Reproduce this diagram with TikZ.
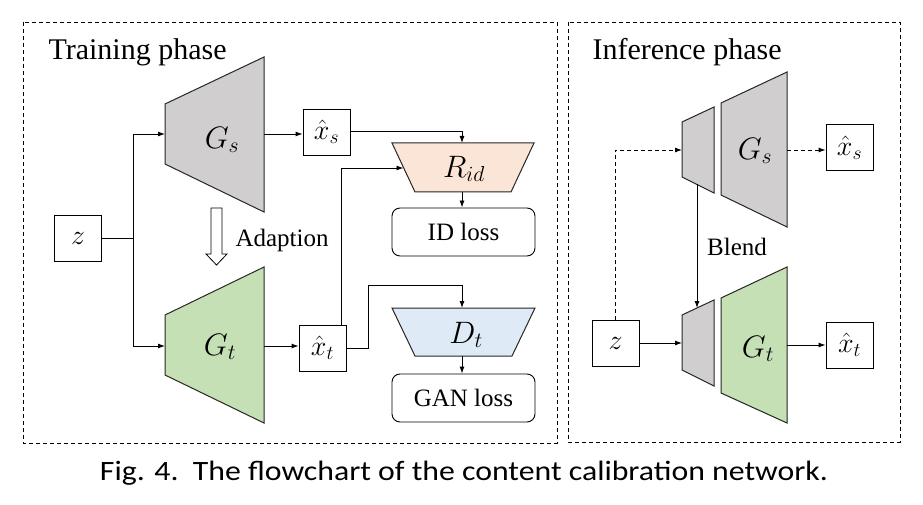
\RequirePackage{fix-cm}
\documentclass[tikz,border=0pt]{standalone}
\usepackage{fontspec}
\setmainfont{Liberation Serif}
\newfontfamily\capfont{Carlito}
\usetikzlibrary{arrows.meta, positioning}

\definecolor{netgray}{HTML}{D0CECE}
\definecolor{netgreen}{HTML}{C5E0B4}
\definecolor{netpeach}{HTML}{FBE5D6}
\definecolor{netblue}{HTML}{DEEBF7}

\begin{document}
\begin{tikzpicture}[x=1pt, y=-1pt, >={Latex[length=7pt, width=5pt]},
                    phase/.style = {draw, line width=0.8pt, dash pattern=on 4pt off 3pt},
                    net/.style = {draw=black!85, line width=1pt, fill=#1},
                    imgbox/.style = {draw, line width=0.9pt, minimum width=47pt, minimum height=46pt,
                                     inner sep=0pt, font=\fontsize{28}{32}\selectfont},
                    lossbox/.style = {draw, line width=0.9pt, rounded corners=8pt, minimum width=143pt,
                                      minimum height=48pt, inner sep=0pt, font=\fontsize{25}{30}\selectfont},
                    netlabel/.style = {font=\fontsize{31}{36}\selectfont},
                    link/.style = {line width=0.9pt}
                   ]

    \useasboundingbox (0,0) rectangle (923,505);

    % frames
    \draw[phase] (23,22) rectangle (557,443);
    \draw[phase] (568,22) rectangle (900,442);
    \node[anchor=base west, font=\fontsize{30}{36}\selectfont] (train) at (45,60) {Training phase};
    \node[anchor=base west, font=\fontsize{30}{36}\selectfont] (infer) at (589,60) {Inference phase};

    % training phase
    \node[imgbox] (z) at (78,238) {$z$};
    \coordinate (split) at (133,238);

    \draw[net=netgray] (165,104) -- (264,57) -- (264,212) -- (165,164) -- cycle;
    \node[netlabel] (gs) at (222,140) {$G_s$};
    \coordinate (gs in) at (165,134);
    \coordinate (gs out) at (264,134);

    \draw[net=netgreen] (165,315) -- (264,267) -- (264,423) -- (165,375) -- cycle;
    \node[netlabel] (gt) at (220,347) {$G_t$};
    \coordinate (gt in) at (165,346);
    \coordinate (gt out) at (264,346);

    \node[imgbox] (xs) at (326.5,132) {$\hat{x}_s$};
    \node[imgbox] (xt) at (322.5,348) {$\hat{x}_t$};

    \draw[net=netpeach] (392,143) -- (534,143) -- (511,192) -- (415,192) -- cycle;
    \node[netlabel] (rid) at (464,169) {$R_{id}$};
    \coordinate (rid top) at (462,143);
    \coordinate (rid left) at (403.5,168);
    \coordinate (rid bot) at (462,192);

    \draw[net=netblue] (392,308) -- (535,308) -- (512,356) -- (415,356) -- cycle;
    \node[netlabel] (dt) at (466,335) {$D_t$};
    \coordinate (dt top) at (462,308);
    \coordinate (dt bot) at (462,356);

    \node[lossbox] (idloss) at (463.5,232) {ID loss};
    \node[lossbox] (ganloss) at (463.5,398) {GAN loss};

    \draw[link] (z.east) -- (split);
    \draw[link, ->] (split) |- (gs in);
    \draw[link, ->] (split) |- (gt in);
    \draw[link, ->] (gs out) -- (gs out -| xs.west);
    \draw[link, ->] (gt out) -- (gt out -| xt.west);
    \draw[link, ->] (xs.east |- 0,131) -| (rid top);
    \draw[link, ->] (xt.north -| 341,0) |- (rid left);
    \draw[link, ->] (xt.east) -- ++(22,0) |- (462,285) -- (dt top);
    \draw[link, ->] (rid bot) -- (idloss.north -| rid bot);
    \draw[link, ->] (dt bot) -- (ganloss.north -| dt bot);

    \draw[line width=0.8pt, fill=white] (211,208) -- (222,208) -- (222,254) -- (227,254)
        -- (216.5,265) -- (206,254) -- (211,254) -- cycle;
    \node[anchor=west, font=\fontsize{25}{30}\selectfont] (adapt) at (232,240) {Adaption};

    % inference phase
    \draw[net=netgray] (682,122) -- (714,107) -- (714,193) -- (682,177) -- cycle;
    \draw[net=netgray] (721,103) -- (787,72) -- (787,227) -- (721,195) -- cycle;
    \node[netlabel] (gs2) at (755,151) {$G_s$};
    \coordinate (enc s in) at (682,150);
    \coordinate (enc s bot) at (697,184.5);
    \coordinate (gs2 out) at (787,150);

    \draw[net=netgray] (682,315) -- (714,300) -- (714,386) -- (682,370) -- cycle;
    \draw[net=netgreen] (721,298) -- (787,267) -- (787,423) -- (721,393) -- cycle;
    \node[netlabel] (gt2) at (758,349) {$G_t$};
    \coordinate (enc t in) at (682,343);
    \coordinate (enc t top) at (697,308);
    \coordinate (gt2 out) at (787,345);

    \node[imgbox] (z2) at (615.5,343.5) {$z$};
    \node[imgbox] (xs2) at (849.5,147.5) {$\hat{x}_s$};
    \node[imgbox] (xt2) at (849.5,345) {$\hat{x}_t$};

    \draw[link, ->, dash pattern=on 4pt off 3pt] (z2.north) |- (enc s in);
    \draw[link, ->] (z2.east |- enc t in) -- (enc t in);
    \draw[link, ->] (enc s bot) -- (enc t top);
    \draw[link, ->, dash pattern=on 4pt off 3pt] (gs2 out) -- (gs2 out -| xs2.west);
    \draw[link, ->] (gt2 out) -- (gt2 out -| xt2.west);
    \node[font=\fontsize{25}{30}\selectfont] (blend) at (737,247) {Blend};

    % caption
    \node[anchor=base, font=\capfont\fontsize{28}{32}\selectfont] (caption) at (464,480)
        {\scalebox{1.135}[1]{Fig. 4.\ \ The flowchart of the content calibration network.}};

\end{tikzpicture}
\end{document}
